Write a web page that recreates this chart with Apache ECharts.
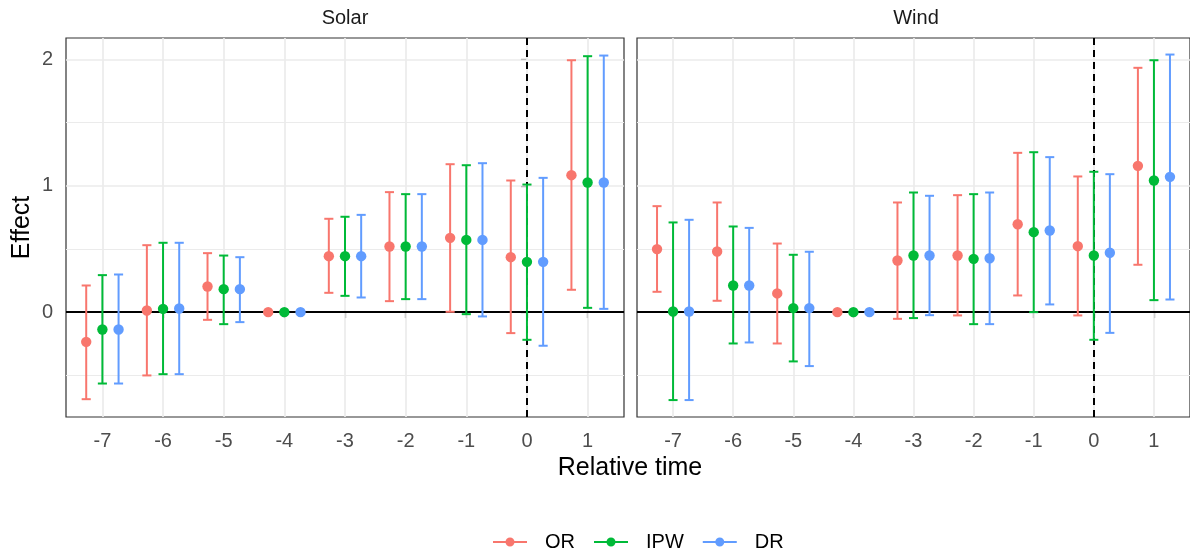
<!DOCTYPE html>
<html><head><meta charset="utf-8">
<script src="https://cdn.jsdelivr.net/npm/echarts@6/dist/echarts.min.js"></script>
<style>html,body{margin:0;padding:0;background:#fff}#c{width:1190px;height:559px}</style>
</head><body><div id="c"></div>
<script>
// ---- data ----
const times = [-7, -6, -5, -4, -3, -2, -1, 0, 1];
const methods = ['OR', 'IPW', 'DR'];
const panelNames = ['Solar', 'Wind'];
// each row: [estimate, lower, upper] for times above
const solarOR = [[-0.235,-0.689,0.211],[0.013,-0.501,0.530],[0.203,-0.061,0.467],[0,null,null],[0.443,0.153,0.739],[0.520,0.087,0.950],[0.588,0.003,1.171],[0.435,-0.166,1.042],[1.084,0.177,1.994]];
const solarIPW = [[-0.137,-0.565,0.293],[0.026,-0.491,0.549],[0.182,-0.095,0.448],[0,null,null],[0.443,0.129,0.755],[0.520,0.103,0.934],[0.572,-0.016,1.163],[0.398,-0.219,1.010],[1.026,0.034,2.026]];
const solarDR = [[-0.137,-0.565,0.298],[0.029,-0.491,0.549],[0.182,-0.079,0.435],[0,null,null],[0.443,0.116,0.770],[0.520,0.103,0.934],[0.572,-0.034,1.179],[0.398,-0.266,1.063],[1.026,0.026,2.031]];
const windOR = [[0.499,0.161,0.839],[0.480,0.090,0.868],[0.148,-0.248,0.543],[0,null,null],[0.409,-0.053,0.868],[0.448,-0.026,0.926],[0.696,0.132,1.261],[0.522,-0.026,1.074],[1.158,0.375,1.934]];
const windIPW = [[0.005,-0.696,0.710],[0.211,-0.248,0.678],[0.032,-0.390,0.454],[0,null,null],[0.448,-0.047,0.947],[0.422,-0.095,0.934],[0.633,0.000,1.266],[0.448,-0.219,1.111],[1.042,0.095,1.994]];
const windDR = [[0.005,-0.696,0.731],[0.211,-0.240,0.667],[0.032,-0.427,0.478],[0,null,null],[0.448,-0.024,0.921],[0.427,-0.095,0.947],[0.646,0.061,1.227],[0.470,-0.164,1.092],[1.071,0.100,2.039]];
const yTickValues = [0, 1, 2];
const yMinorValues = [-0.5, 0.5, 1.5];

// ---- style ----
const colors = ['#F8766D', '#00BA38', '#619CFF'];
const dodge = [-0.2667, 0, 0.2667];
const FONT = '"Liberation Sans", Arial, sans-serif';
const panelData = [[solarOR, solarIPW, solarDR], [windOR, windIPW, windDR]];
const grids = [
  {left: 66, top: 38, width: 558, height: 379},
  {left: 637, top: 38, width: 558, height: 379}
];

function renderBar(color) {
  return function (params, api) {
    const x = api.value(0), est = api.value(1), lo = api.value(2), hi = api.value(3);
    const p = api.coord([x, est]);
    const ch = [];
    if (!isNaN(lo) && !isNaN(hi)) {
      const t = api.coord([x, hi]), b = api.coord([x, lo]);
      const hw = api.size([0.15, 0])[0] / 2;
      const ls = {stroke: color, lineWidth: 2};
      ch.push({type: 'line', shape: {x1: t[0], y1: t[1], x2: b[0], y2: b[1]}, style: ls});
      ch.push({type: 'line', shape: {x1: t[0] - hw, y1: t[1], x2: t[0] + hw, y2: t[1]}, style: ls});
      ch.push({type: 'line', shape: {x1: b[0] - hw, y1: b[1], x2: b[0] + hw, y2: b[1]}, style: ls});
    }
    ch.push({type: 'circle', shape: {cx: p[0], cy: p[1], r: 5.2}, style: {fill: color}});
    return {type: 'group', children: ch};
  };
}

const xAxes = [], yAxes = [], series = [];
panelNames.forEach((pn, gi) => {
  xAxes.push({
    type: 'value', gridIndex: gi, min: -7.6, max: 1.6,
    axisLine: {show: false},
    splitLine: {show: false},
    axisTick: {show: true, customValues: times, length: 6, lineStyle: {color: '#333333', width: 1.2}},
    axisLabel: {show: true, customValues: times, fontSize: 20, color: '#4D4D4D', fontFamily: FONT, margin: 14}
  });
  yAxes.push({
    type: 'value', gridIndex: gi, min: -0.83, max: 2.17,
    axisLine: {show: false},
    splitLine: {show: false},
    axisTick: {show: gi === 0, customValues: yTickValues, length: 6, lineStyle: {color: '#333333', width: 1.2}},
    axisLabel: {show: gi === 0, customValues: yTickValues, fontSize: 20, color: '#4D4D4D', fontFamily: FONT, margin: 13},
    name: gi === 0 ? 'Effect' : '', nameLocation: 'middle', nameRotate: 90, nameGap: 31,
    nameTextStyle: {fontSize: 25, color: '#000', fontFamily: FONT}
  });
  // reference / grid lines
  const ml = [];
  yMinorValues.forEach(v => ml.push({yAxis: v, lineStyle: {color: '#EBEBEB', width: 1, type: 'solid'}}));
  yTickValues.forEach(v => ml.push({yAxis: v, lineStyle: {color: '#EBEBEB', width: 1.7, type: 'solid'}}));
  times.forEach(v => ml.push({xAxis: v, lineStyle: {color: '#EBEBEB', width: 1.7, type: 'solid'}}));
  ml.push({yAxis: 0, lineStyle: {color: '#000', width: 2, type: 'solid'}});
  ml.push({xAxis: 0, lineStyle: {color: '#000', width: 2, type: [7, 5]}});
  series.push({
    type: 'line', xAxisIndex: gi, yAxisIndex: gi, data: [], silent: true, z: 1,
    markLine: {silent: true, z: 1, symbol: ['none', 'none'], label: {show: false}, emphasis: {disabled: true}, animation: false, data: ml}
  });
  methods.forEach((m, mi) => {
    const rows = panelData[gi][mi];
    series.push({
      type: 'custom', name: m, xAxisIndex: gi, yAxisIndex: gi, z: 10 + mi,
      itemStyle: {color: colors[mi]},
      encode: {x: 0, y: [1, 2, 3]},
      data: rows.map((r, i) => [times[i] + dodge[mi], r[0], r[1] == null ? '-' : r[1], r[2] == null ? '-' : r[2]]),
      renderItem: renderBar(colors[mi]),
      silent: true
    });
  });
});

const chart = echarts.init(document.getElementById('c'), null, {renderer: 'canvas'});
chart.setOption({
  animation: false,
  backgroundColor: '#ffffff',
  grid: grids.map(g => Object.assign({show: true, borderColor: '#333333', borderWidth: 1.2, backgroundColor: 'transparent'}, g)),
  xAxis: xAxes,
  yAxis: yAxes,
  series: series,
  legend: {
    data: methods, left: 488, top: 527, orient: 'horizontal', selectedMode: false,
    itemWidth: 34, itemHeight: 10, itemGap: 19,
    icon: 'path://M0,4 L34,4 L34,6 L0,6 Z M12.5,5 A4.5,4.5 0 1,1 21.5,5 A4.5,4.5 0 1,1 12.5,5 Z',
    textStyle: {fontSize: 20, color: '#000', fontFamily: FONT, padding: [0, 0, 0, 13]}
  },
  graphic: [
    {type: 'text', x: 345, y: 18, style: {text: panelNames[0], font: '20px ' + FONT, fill: '#1A1A1A', textAlign: 'center', textVerticalAlign: 'middle'}},
    {type: 'text', x: 916, y: 18, style: {text: panelNames[1], font: '20px ' + FONT, fill: '#1A1A1A', textAlign: 'center', textVerticalAlign: 'middle'}},
    {type: 'text', x: 630, y: 468, style: {text: 'Relative time', font: '25px ' + FONT, fill: '#000', textAlign: 'center', textVerticalAlign: 'middle'}}
  ]
});
</script></body></html>
